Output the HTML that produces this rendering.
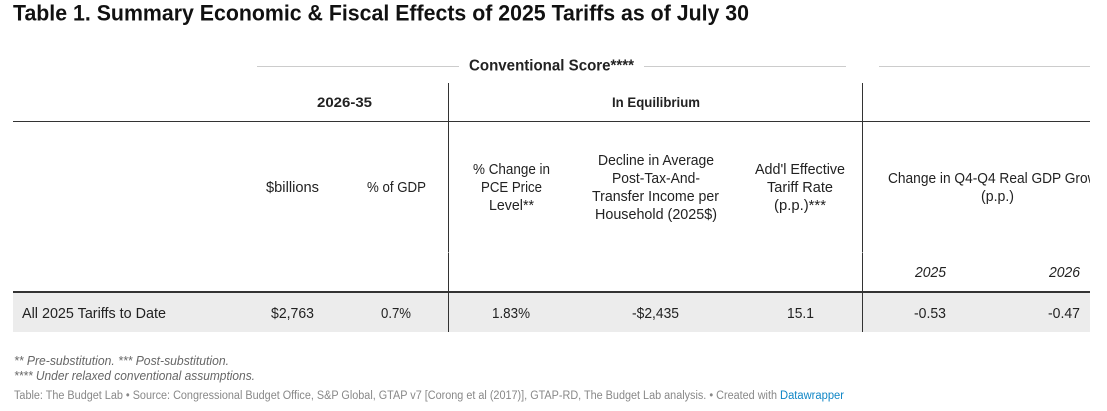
<!DOCTYPE html>
<html lang="en">
<head>
<meta charset="utf-8">
<title>Table 1. Summary Economic &amp; Fiscal Effects of 2025 Tariffs as of July 30</title>
<style>
html,body{margin:0;padding:0;background:#fff;width:1107px;height:411px;overflow:hidden}
svg{display:block;font-family:"Liberation Sans",sans-serif}
.h{font-size:14px;font-weight:bold;fill:#222}
.c{font-size:14.500px;fill:#222}
.i{font-style:italic}
.n{font-size:12.500px;font-style:italic;fill:#666}
.s{font-size:11.500px;fill:#888}
</style>
</head>
<body>
<svg width="1107" height="411" viewBox="0 0 1107 411" xmlns="http://www.w3.org/2000/svg">
<defs><clipPath id="clip-table"><rect x="13" y="130" width="1077" height="100"/></clipPath></defs>

<text x="13" y="20.500" font-size="22" font-weight="bold" fill="#111" textLength="736" lengthAdjust="spacingAndGlyphs">Table 1. Summary Economic &amp; Fiscal Effects of 2025 Tariffs as of July 30</text>

<rect x="13" y="293" width="1077" height="39" fill="#ececec"/>

<g fill="#ccc">
<rect x="257" y="66" width="202" height="1"/>
<rect x="644" y="66" width="202" height="1"/>
<rect x="879" y="66" width="211" height="1"/>
</g>
<text x="469" y="70.500" font-size="16" font-weight="bold" fill="#222" textLength="165" lengthAdjust="spacingAndGlyphs">Conventional Score****</text>

<rect x="13" y="121" width="1077" height="1" fill="#333"/>
<rect x="13" y="291" width="1077" height="2" fill="#333"/>

<g fill="#333">
<rect x="448" y="83" width="1" height="249"/>
<rect x="862" y="83" width="1" height="249"/>
<rect x="448" y="252" width="1" height="1" fill="#999"/>
<rect x="862" y="252" width="1" height="1" fill="#999"/>
</g>

<text class="h" x="317" y="107" textLength="55" lengthAdjust="spacingAndGlyphs">2026-35</text>
<text class="h" x="612" y="107" textLength="88" lengthAdjust="spacingAndGlyphs">In Equilibrium</text>

<text class="c" x="266" y="192" textLength="53" lengthAdjust="spacingAndGlyphs">$billions</text>
<text class="c" x="367" y="192" textLength="59" lengthAdjust="spacingAndGlyphs">% of GDP</text>

<g class="c">
<text x="473" y="174" textLength="77" lengthAdjust="spacingAndGlyphs">% Change in</text>
<text x="481" y="192" textLength="61" lengthAdjust="spacingAndGlyphs">PCE Price</text>
<text x="489" y="210" textLength="45" lengthAdjust="spacingAndGlyphs">Level**</text>
</g>

<g class="c">
<text x="598" y="165" textLength="116" lengthAdjust="spacingAndGlyphs">Decline in Average</text>
<text x="612" y="183" textLength="88" lengthAdjust="spacingAndGlyphs">Post-Tax-And-</text>
<text x="592" y="201" textLength="127" lengthAdjust="spacingAndGlyphs">Transfer Income per</text>
<text x="595" y="219" textLength="122" lengthAdjust="spacingAndGlyphs">Household (2025$)</text>
</g>

<g class="c">
<text x="755" y="174" textLength="90" lengthAdjust="spacingAndGlyphs">Add'l Effective</text>
<text x="767" y="192" textLength="66" lengthAdjust="spacingAndGlyphs">Tariff Rate</text>
<text x="774" y="210" textLength="52" lengthAdjust="spacingAndGlyphs">(p.p.)***</text>
</g>

<g class="c" clip-path="url(#clip-table)">
<text x="888" y="183" textLength="221" lengthAdjust="spacingAndGlyphs">Change in Q4-Q4 Real GDP Growth</text>
<text x="981" y="201" textLength="33" lengthAdjust="spacingAndGlyphs">(p.p.)</text>
</g>

<text class="c i" x="915" y="277" textLength="31" lengthAdjust="spacingAndGlyphs">2025</text>
<text class="c i" x="1049" y="277" textLength="31" lengthAdjust="spacingAndGlyphs">2026</text>

<g class="c">
<text x="22" y="318" textLength="144" lengthAdjust="spacingAndGlyphs">All 2025 Tariffs to Date</text>
<text x="271" y="318" textLength="43" lengthAdjust="spacingAndGlyphs">$2,763</text>
<text x="381" y="318" textLength="30" lengthAdjust="spacingAndGlyphs">0.7%</text>
<text x="492" y="318" textLength="38" lengthAdjust="spacingAndGlyphs">1.83%</text>
<text x="632" y="318" textLength="47" lengthAdjust="spacingAndGlyphs">-$2,435</text>
<text x="787" y="318" textLength="27" lengthAdjust="spacingAndGlyphs">15.1</text>
<text x="914" y="318" textLength="32" lengthAdjust="spacingAndGlyphs">-0.53</text>
<text x="1048" y="318" textLength="32" lengthAdjust="spacingAndGlyphs">-0.47</text>
</g>

<text class="n" x="14" y="365" textLength="215" lengthAdjust="spacingAndGlyphs">** Pre-substitution. *** Post-substitution.</text>
<text class="n" x="14" y="380" textLength="241" lengthAdjust="spacingAndGlyphs">**** Under relaxed conventional assumptions.</text>
<text class="s" x="14" y="399" textLength="763" lengthAdjust="spacingAndGlyphs">Table: The Budget Lab • Source: Congressional Budget Office, S&amp;P Global, GTAP v7 [Corong et al (2017)], GTAP-RD, The Budget Lab analysis. • Created with</text>
<text x="780" y="399" font-size="11.500" textLength="64" lengthAdjust="spacingAndGlyphs" style="fill:#0f86c6">Datawrapper</text>
</svg>
</body>
</html>
